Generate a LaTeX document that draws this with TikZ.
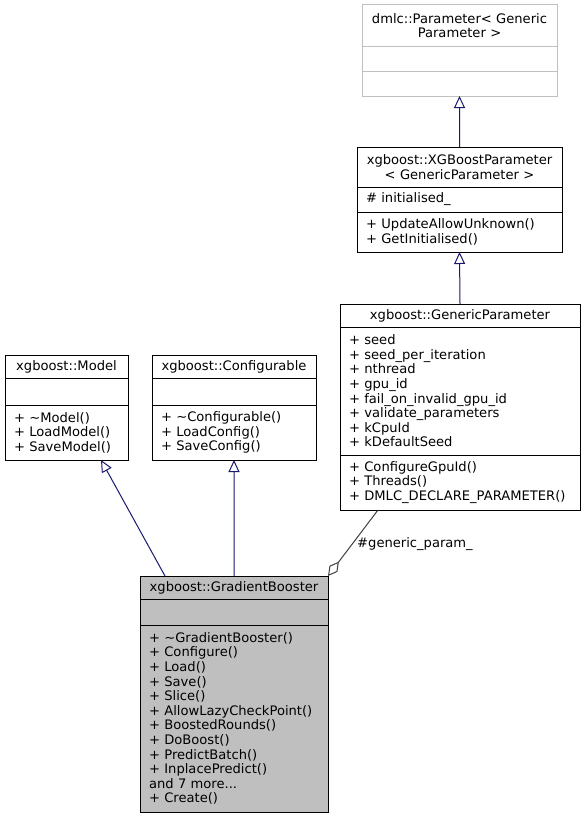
\documentclass[tikz,border=0pt]{standalone}
\usepackage{fontspec}
\setmainfont{DejaVu Sans}
\usepackage{xcolor}
\usepackage{tikz}
\usetikzlibrary{arrows.meta,positioning,calc}
\definecolor{inheritblue}{RGB}{25, 25, 112}
\definecolor{aggrgrey}{RGB}{64, 64, 64}
\definecolor{boxgrey}{RGB}{191, 191, 191}

\begin{document}
\begin{tikzpicture}[x=1bp, y=-1bp]
    \tikzstyle{cbox} = [draw=black, fill=white, line width=1bp, inner xsep=9bp, inner ysep=0pt, outer sep=0pt, font=\fontsize{13.1bp}{14.6bp}\selectfont]
    \tikzstyle{ctitle} = [cbox, align=center, anchor=north west]
    \tikzstyle{cpart} = [cbox, align=left]
    \tikzstyle{inherit} = [draw=inheritblue, line width=1bp, -{Triangle[open, length=12bp, width=11bp, fill=white]}]
    \tikzstyle{aggr} = [draw=aggrgrey, line width=1bp, -{Diamond[open, length=18bp, width=10bp, fill=white]}]

    \useasboundingbox (0,0) rectangle (585,819);

    % dmlc::Parameter
    \node[ctitle, draw=boxgrey, text width=177bp, minimum height=41bp] (parT) at (362,5) {dmlc::Parameter< Generic\\Parameter >};
    \node[cpart, draw=boxgrey, text width=177bp, minimum height=25bp, below=0pt of parT] (parA) {};
    \node[cpart, draw=boxgrey, text width=177bp, minimum height=25bp, below=0pt of parA] (parM) {};

    % xgboost::XGBoostParameter
    \node[ctitle, text width=187bp, minimum height=40bp] (xgbT) at (357,147) {xgboost::XGBoostParameter\\< GenericParameter >};
    \node[cpart, text width=187bp, minimum height=25bp, below=0pt of xgbT] (xgbA) {\# initialised\_};
    \node[cpart, text width=187bp, minimum height=40bp, below=0pt of xgbA] (xgbM) {+ UpdateAllowUnknown()\\+ GetInitialised()};

    % xgboost::GenericParameter
    \node[ctitle, text width=222bp, minimum height=23bp] (genT) at (340,304) {xgboost::GenericParameter};
    \node[cpart, text width=222bp, minimum height=128bp, below=0pt of genT] (genA) {+ seed\\+ seed\_per\_iteration\\+ nthread\\+ gpu\_id\\+ fail\_on\_invalid\_gpu\_id\\+ validate\_parameters\\+ kCpuId\\+ kDefaultSeed};
    \node[cpart, text width=222bp, minimum height=55bp, below=0pt of genA] (genM) {+ ConfigureGpuId()\\+ Threads()\\+ DMLC\_DECLARE\_PARAMETER()};

    % xgboost::Model
    \node[ctitle, text width=105bp, minimum height=23bp] (mdlT) at (5,355) {xgboost::Model};
    \node[cpart, text width=105bp, minimum height=27bp, below=0pt of mdlT] (mdlA) {};
    \node[cpart, text width=105bp, minimum height=55bp, below=0pt of mdlA] (mdlM) {+ \textasciitilde Model()\\+ LoadModel()\\+ SaveModel()};

    % xgboost::Configurable
    \node[ctitle, text width=146bp, minimum height=23bp] (cfgT) at (152,355) {xgboost::Configurable};
    \node[cpart, text width=146bp, minimum height=27bp, below=0pt of cfgT] (cfgA) {};
    \node[cpart, text width=146bp, minimum height=55bp, below=0pt of cfgA] (cfgM) {+ \textasciitilde Configurable()\\+ LoadConfig()\\+ SaveConfig()};

    % xgboost::GradientBooster
    \node[ctitle, fill=boxgrey, text width=170bp, minimum height=23bp] (gbT) at (140,576) {xgboost::GradientBooster};
    \node[cpart, fill=boxgrey, text width=170bp, minimum height=26bp, below=0pt of gbT] (gbA) {};
    \node[cpart, fill=boxgrey, text width=170bp, minimum height=187bp, below=0pt of gbA] (gbM) {+ \textasciitilde GradientBooster()\\+ Configure()\\+ Load()\\+ Save()\\+ Slice()\\+ AllowLazyCheckPoint()\\+ BoostedRounds()\\+ DoBoost()\\+ PredictBatch()\\+ InplacePredict()\\and 7 more...\\+ Create()};

    \draw[inherit] (xgbT.north) -- (parM.south);
    \draw[inherit] (genT.north) -- (xgbM.south);
    \draw[inherit] ($(gbT.north west)+(25,0)$) -- ($(mdlM.south east)+(-27,0)$);
    \draw[inherit] (gbT.north) -- (cfgM.south);
    \draw[aggr] ($(genM.south west)+(38,0)$) -- (gbT.north east);
    \node[anchor=west, inner sep=0pt, font=\fontsize{13.1bp}{14.6bp}\selectfont] (aggrlbl) at (357,544) {\#generic\_param\_};
\end{tikzpicture}
\end{document}
